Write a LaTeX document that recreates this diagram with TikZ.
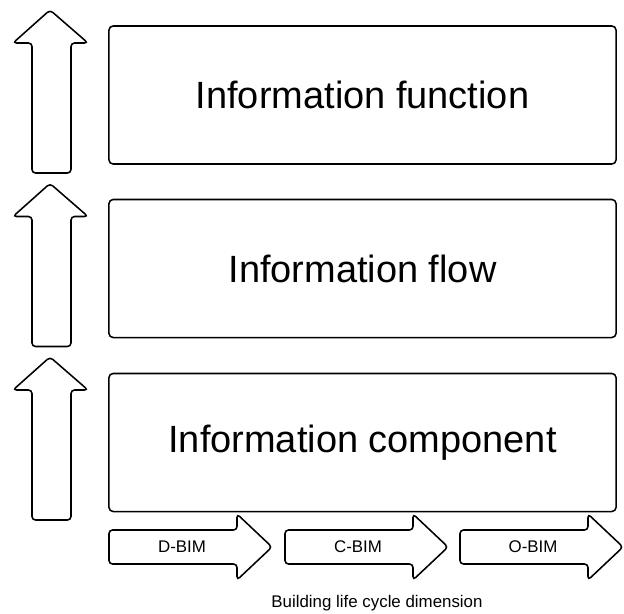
\documentclass[tikz,border=0pt]{standalone}
\usepackage{fontspec}
\setmainfont{Liberation Sans}
\usetikzlibrary{positioning}

\tikzset{
  layerbox/.style={draw, line width=1.1pt, rounded corners=3pt, minimum width=12.675cm, minimum height=3.45cm, font=\fontsize{27}{32}\selectfont},
  bigarrow/.style={draw, line width=1.1pt, rounded corners=2.5pt},
  smalltext/.style={font=\fontsize{12}{14}\selectfont}
}

\begin{document}
\begin{tikzpicture}[x=0.025cm, y=-0.025cm]
\useasboundingbox (0,0) rectangle (624,613);
\node[layerbox] (func) at (362.5,95) {Information function};
\node[layerbox] (flow) at (362.5,268.5) {Information flow};
\node[layerbox] (comp) at (362.5,442.5) {Information component};
% Up arrows:
\foreach \dy in {0,173.5,347}
  \draw[bigarrow] (32,173+\dy) -- (32,43+\dy) -- (13,43+\dy) -- (50,10+\dy) -- (88,43+\dy) -- (71,43+\dy) -- (71,173+\dy) -- cycle;
% Life cycle arrows:
\foreach \x/\name/\txt in {109/dbim/D-BIM, 285/cbim/C-BIM, 460/obim/O-BIM} {
  \draw[bigarrow] (\x,530) -- (\x+128,530) -- (\x+128,514) -- (\x+163,547) -- (\x+128,580) -- (\x+128,564) -- (\x,564) -- cycle;
  \node[smalltext] (\name) at (\x+73,547) {\txt};
}
\node[smalltext] (cycle) at (377,603) {Building life cycle dimension};
\end{tikzpicture}
\end{document}
